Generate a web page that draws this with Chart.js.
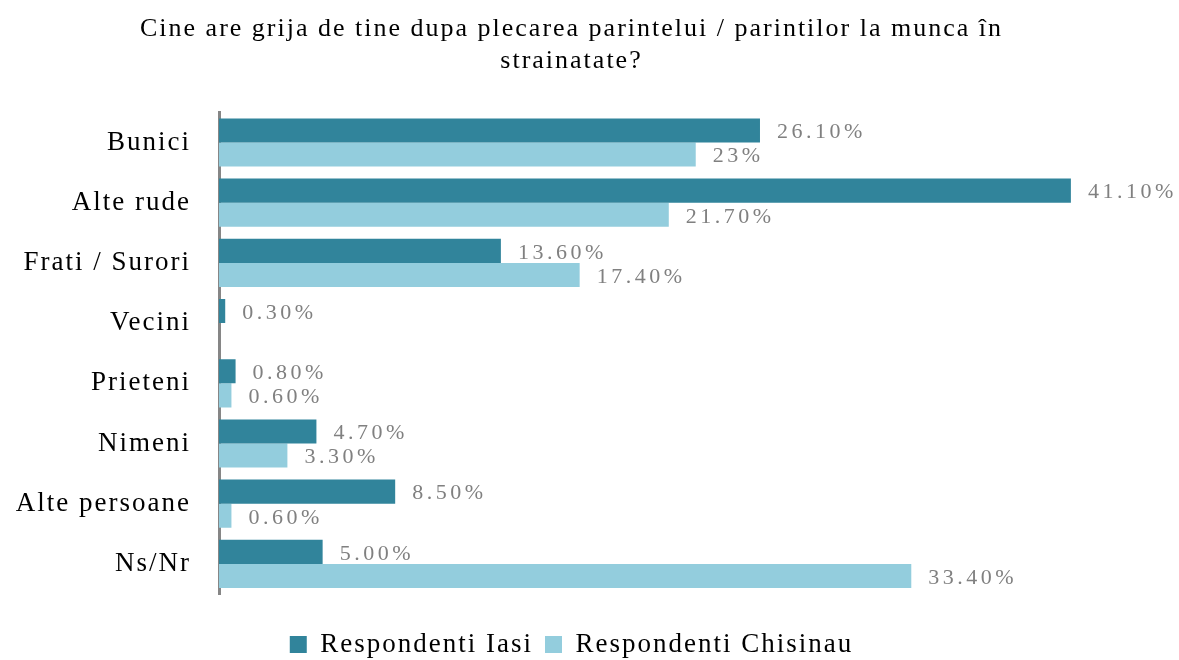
<!DOCTYPE html>
<html>
<head>
<meta charset="utf-8">
<script src="https://cdn.jsdelivr.net/npm/chart.js@4/dist/chart.umd.min.js"></script>
<style>
  html, body { margin: 0; padding: 0; background: #fff; }
  #wrap { width: 1179px; height: 660px; }
</style>
</head>
<body>
<div id="wrap"><canvas id="chart"></canvas></div>
<script>
const TITLE = ["Cine are grija de tine dupa plecarea parintelui / parintilor la munca în", "strainatate?"];
const CATEGORIES = ["Bunici", "Alte rude", "Frati / Surori", "Vecini", "Prieteni", "Nimeni", "Alte persoane", "Ns/Nr"];
const IASI = [26.1, 41.1, 13.6, 0.3, 0.8, 4.7, 8.5, 5.0];
const CHISINAU = [23, 21.7, 17.4, null, 0.6, 3.3, 0.6, 33.4];
const IASI_LABELS = ["26.10%", "41.10%", "13.60%", "0.30%", "0.80%", "4.70%", "8.50%", "5.00%"];
const CHISINAU_LABELS = ["23%", "21.70%", "17.40%", "", "0.60%", "3.30%", "0.60%", "33.40%"];

const SERIF = "'Liberation Serif', 'DejaVu Serif', serif";

// canvas letter spacing, reapplied since resizing resets the context
const spacing = {
  id: "spacing",
  beforeUpdate(chart) { chart.ctx.letterSpacing = "2px"; },
  beforeLayout(chart) { chart.ctx.letterSpacing = "2px"; },
  beforeDraw(chart) { chart.ctx.letterSpacing = "2px"; },
};

const valueLabels = {
  id: "valueLabels",
  afterDatasetsDraw(chart) {
    const ctx = chart.ctx;
    const texts = [IASI_LABELS, CHISINAU_LABELS];
    ctx.save();
    ctx.font = "22px " + SERIF;
    ctx.letterSpacing = "3.5px";
    ctx.fillStyle = "#808080";
    ctx.textAlign = "left";
    ctx.textBaseline = "middle";
    chart.data.datasets.forEach((ds, i) => {
      chart.getDatasetMeta(i).data.forEach((bar, j) => {
        const t = texts[i][j];
        if (!t || ds.data[j] == null) return;
        ctx.fillText(t, bar.x + 17, bar.y + 2);
      });
    });
    ctx.restore();
  },
};

new Chart(document.getElementById("chart"), {
  type: "bar",
  data: {
    labels: CATEGORIES,
    datasets: [
      { label: "Respondenti Iasi", data: IASI, backgroundColor: "#31849B" },
      { label: "Respondenti Chisinau", data: CHISINAU, backgroundColor: "#93CDDD" },
    ],
  },
  options: {
    indexAxis: "y",
    responsive: true,
    maintainAspectRatio: false,
    animation: false,
    categoryPercentage: 0.8,
    barPercentage: 1,
    layout: { padding: { left: 12, right: 48, top: 0, bottom: -8 } },
    scales: {
      x: {
        min: 0,
        max: 44,
        grid: { display: false },
        border: { display: false },
        ticks: { display: false },
        afterFit(s) { s.height = 25; },
      },
      y: {
        grid: { display: false, drawTicks: false },
        border: { display: true, color: "#868686", width: 3 },
        ticks: { color: "#000", font: { family: SERIF, size: 27 }, padding: 28 },
        afterFit(s) { s.width = 207; },
      },
    },
    plugins: {
      title: {
        display: true,
        text: TITLE,
        color: "#000",
        font: { family: SERIF, size: 26, weight: "normal", lineHeight: 1.2 },
        padding: { top: 14, bottom: 36 },
      },
      legend: {
        position: "bottom",
        labels: {
          color: "#000",
          font: { family: SERIF, size: 27 },
          boxWidth: 17,
          boxHeight: 17,
          padding: 12,
        },
      },
      tooltip: { enabled: false },
    },
  },
  plugins: [spacing, valueLabels],
});
</script>
</body>
</html>
